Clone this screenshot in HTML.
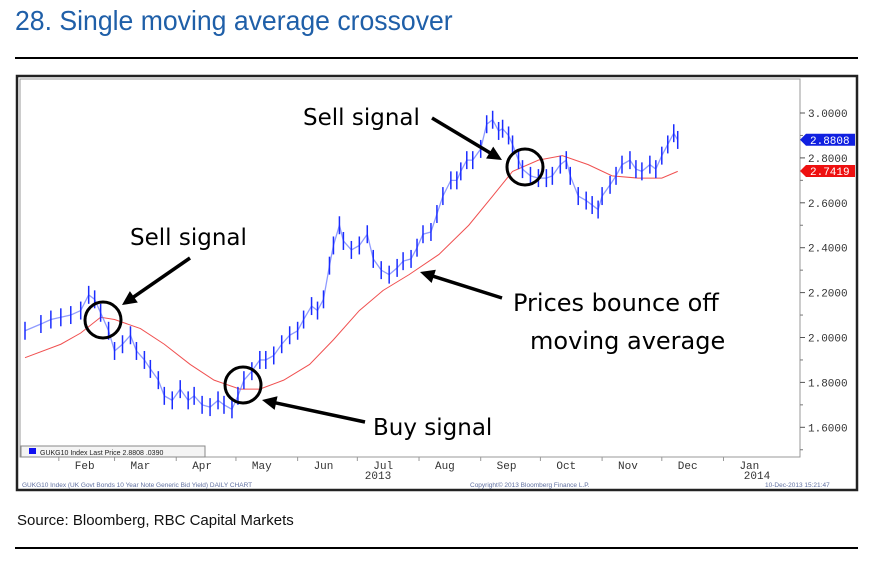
<!DOCTYPE html>
<html><head><meta charset="utf-8">
<style>
body{margin:0;background:#fff;width:873px;height:574px;overflow:hidden;position:relative;font-family:"Liberation Sans",sans-serif}
.title{position:absolute;left:15px;top:5px;font-family:"Liberation Sans Narrow","Liberation Sans",sans-serif;font-size:28px;color:#1f5fa8;transform:scaleX(0.95);transform-origin:0 0;white-space:nowrap}
.src{position:absolute;left:17px;top:512px;font-size:15px;color:#111}
</style></head><body>
<div class="title">28. Single moving average crossover</div>
<div style="position:absolute;left:15px;top:57px;width:843px;height:2px;background:#000"></div>
<div style="position:absolute;left:15px;top:547px;width:843px;height:2px;background:#000"></div>
<div class="src">Source: Bloomberg, RBC Capital Markets</div>
<svg id="c" width="873" height="574" style="position:absolute;left:0;top:0">
<rect x="17" y="76" width="840" height="414" fill="#fff" stroke="#222" stroke-width="2.5"/>
<rect x="20" y="79" width="780" height="378" fill="#fff" stroke="#999" stroke-width="1"/>
<g id="g"></g>
</svg>
<script>
const days=[0,8,13,18,23,28,32,35,38,42,45,49,53,56,60,63,67,70,74,78,82,85,89,93,97,100,104,107,110,114,118,121,125,129,133,137,140,144,147,150,153,155,158,160,164,168,172,175,179,183,187,190,194,197,200,204,207,210,214,217,219,222,225,229,232,235,238,240,243,245,248,250,254,258,262,265,269,272,274,278,282,285,288,290,294,297,300,304,307,310,314,317,320,323,326,328];
const prices=[2.03,2.06,2.08,2.09,2.10,2.12,2.19,2.17,2.11,2.03,1.94,1.97,2.01,1.94,1.90,1.86,1.81,1.74,1.72,1.77,1.72,1.74,1.70,1.69,1.72,1.70,1.68,1.74,1.81,1.85,1.90,1.90,1.92,1.97,2.01,2.03,2.08,2.14,2.12,2.17,2.32,2.41,2.50,2.43,2.39,2.41,2.46,2.35,2.30,2.28,2.31,2.34,2.35,2.40,2.46,2.47,2.55,2.63,2.70,2.70,2.74,2.79,2.79,2.84,2.95,2.97,2.92,2.93,2.90,2.86,2.79,2.75,2.72,2.71,2.71,2.72,2.77,2.79,2.72,2.63,2.61,2.59,2.57,2.63,2.68,2.72,2.77,2.79,2.75,2.74,2.77,2.75,2.81,2.86,2.91,2.88];
const maDays=[0,18,28,38,45,58,70,83,95,108,118,130,143,155,168,180,193,208,223,235,245,258,270,283,295,308,320,328];
const maVals=[1.91,1.97,2.02,2.09,2.08,2.04,1.97,1.88,1.81,1.77,1.77,1.81,1.88,1.99,2.12,2.21,2.28,2.37,2.50,2.63,2.74,2.79,2.81,2.77,2.72,2.71,2.71,2.74];
const yTicks=[3.0,2.8,2.6,2.4,2.2,2.0,1.8,1.6];
const yTickLabels=["3.0000","2.8000","2.6000","2.4000","2.2000","2.0000","1.8000","1.6000"];
const months=["Feb","Mar","Apr","May","Jun","Jul","Aug","Sep","Oct","Nov","Dec","Jan"];
const monthDays=[31,59,90,120,151,181,212,243,273,304,334,365];
const lastPrice=2.8808, lastMA=2.7419;
const X=d=>25+d*1.99;
const Y=v=>113+(3.0-v)*224.5;
const NS="http://www.w3.org/2000/svg";
const g=document.getElementById('g');
function mk(t,a,txt){const e=document.createElementNS(NS,t);for(const k in a)e.setAttribute(k,a[k]);if(txt!=null)e.textContent=txt;g.appendChild(e);return e;}
yTicks.forEach((v,i)=>{
 const t=mk('line',{x1:800,x2:805,y1:Y(v),y2:Y(v),stroke:'#555'});
 
 
 const m=mk('line',{x1:800,x2:803,y1:Y(v-0.1),y2:Y(v-0.1),stroke:'#777'});
 
 
 const l=mk('text',{x:808,y:Y(v)+4,'font-size':11,fill:'#333','font-family':'Liberation Mono, monospace'},yTickLabels[i]);
 
 
});
monthDays.forEach((d,i)=>{
 const t=mk('line',{x1:X(d-14),x2:X(d-14),y1:457,y2:461,stroke:'#999'});
 
 
 const l=mk('text',{x:X(d)-2,y:469,'font-size':11,'text-anchor':'middle',fill:'#333','font-family':'Liberation Mono, monospace'},months[i]);
 
 
});
[[378,'2013'],[757,'2014']].forEach(p=>{const l=mk('text',{x:p[0],y:479,'font-size':11,'text-anchor':'middle',fill:'#333','font-family':'Liberation Mono, monospace'},p[1]);
 
 });
const ma=mk('polyline',{points:maDays.map((d,i)=>X(d)+','+Y(maVals[i])).join(' '),fill:'none',stroke:'#f05050','stroke-width':1});


const pl=mk('polyline',{points:days.map((d,i)=>X(d)+','+Y(prices[i])).join(' '),fill:'none',stroke:'#6070ff','stroke-width':1.3,'stroke-opacity':0.7});


days.forEach((d,i)=>{
 const b=mk('line',{x1:X(d),x2:X(d),y1:Y(prices[i]+0.04),y2:Y(prices[i]-0.04),stroke:'#1a2cff','stroke-width':1.5});
 
 
});
[[lastPrice,'#1020e0'],[lastMA,'#ee1010']].forEach(p=>{
 const y=Y(p[0]);
 const r=mk('polygon',{points:`800,${y} 806,${y-6} 855,${y-6} 855,${y+6} 806,${y+6}`,fill:p[1]});
 
 
 const t=mk('text',{x:810,y:y+4,'font-size':11,fill:'#fff','font-family':'Liberation Mono, monospace'},p[0].toFixed(4));
 
 
});
const lg=mk('rect',{x:21,y:446,width:184,height:11,fill:'#f4f4f4',stroke:'#888'});


const ls=mk('rect',{x:29,y:448,width:7,height:6,fill:'#1010f0'});


const lt=mk('text',{x:40,y:455,'font-size':7,fill:'#222'},'GUKG10 Index    Last Price 2.8808    .0390');


const ft=mk('text',{x:22,y:487,'font-size':6.5,fill:'#6070a0'},'GUKG10 Index (UK Govt Bonds 10 Year Note Generic Bid Yield) DAILY CHART');


const ft2=mk('text',{x:470,y:487,'font-size':6.5,fill:'#6070a0'},'Copyright© 2013 Bloomberg Finance L.P.');


const ft3=mk('text',{x:765,y:487,'font-size':6.5,fill:'#6070a0'},'10-Dec-2013 15:21:47');


const F='"Comic Sans MS","DejaVu Sans",sans-serif';
[[103,320],[243,385],[525,167]].forEach(c=>{const e=mk('circle',{cx:c[0],cy:c[1],r:18,fill:'none',stroke:'#000','stroke-width':3});
 
 });
function arrow(x1,y1,x2,y2){
 const a=Math.atan2(y2-y1,x2-x1),h=16,w=0.45;
 const l=mk('line',{x1,y1,x2:x2-Math.cos(a)*10,y2:y2-Math.sin(a)*10,stroke:'#000','stroke-width':3.5});
 
 
 const p=mk('polygon',{points:`${x2},${y2} ${x2-h*Math.cos(a-w)},${y2-h*Math.sin(a-w)} ${x2-h*Math.cos(a+w)},${y2-h*Math.sin(a+w)}`,fill:'#000'});
 
 
}
arrow(190,258,122,305);arrow(432,118,502,160);arrow(502,298,420,272);arrow(365,422,262,400);
[[130,245,'Sell signal',23],[303,125,'Sell signal',23],[513,311,'Prices bounce off',24],[530,349,'moving average',24],[373,435,'Buy signal',23]].forEach(t=>{
 const e=mk('text',{x:t[0],y:t[1],'font-size':t[3],fill:'#000','font-family':F},t[2]);
 
 
});
</script>
</body></html>
